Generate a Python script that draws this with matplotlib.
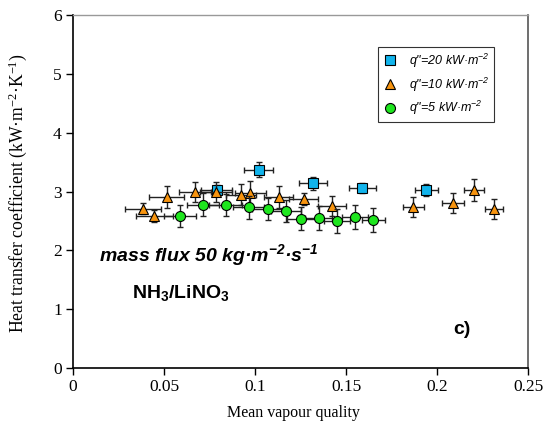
import matplotlib

matplotlib.use("Agg")
import matplotlib.pyplot as plt
from matplotlib.ticker import FixedLocator, FuncFormatter

plt.rcParams["mathtext.default"] = "regular"

# q" = 20 kW/m2 (squares)
x20 = [0.079, 0.102, 0.1317, 0.159, 0.194]
y20 = [3.03, 3.37, 3.14, 3.06, 3.03]
xe20 = [0.0085, 0.0080, 0.0078, 0.0072, 0.0063]
ye20 = [0.08, 0.13, 0.11, 0.09, 0.10]

# q" = 10 kW/m2 (triangles)
x10 = [0.0386, 0.0447, 0.0515, 0.067, 0.0786, 0.0923, 0.0974, 0.113, 0.1267,
       0.1423, 0.187, 0.2086, 0.220, 0.2313]
y10 = [2.71, 2.58, 2.91, 3.00, 3.00, 2.95, 2.98, 2.91, 2.88, 2.76, 2.74, 2.80, 3.03, 2.70]
xe10 = [0.010, 0.010, 0.0095, 0.009, 0.009, 0.0085, 0.0085, 0.008, 0.008, 0.0075,
        0.006, 0.006, 0.0055, 0.005]
ye10 = [0.09, 0.10, 0.19, 0.17, 0.17, 0.18, 0.20, 0.19, 0.10, 0.17, 0.17, 0.17, 0.19, 0.17]

# q" = 5 kW/m2 (circles)
x5 = [0.0588, 0.0714, 0.0839, 0.0965, 0.107, 0.117, 0.1255, 0.135, 0.145, 0.155, 0.165]
y5 = [2.59, 2.78, 2.77, 2.73, 2.70, 2.67, 2.54, 2.55, 2.50, 2.57, 2.52]
xe5 = [0.009, 0.009, 0.009, 0.0085, 0.0085, 0.008, 0.008, 0.0075, 0.007, 0.007, 0.0065]
ye5 = [0.19, 0.19, 0.19, 0.19, 0.19, 0.19, 0.19, 0.21, 0.20, 0.20, 0.20]

xticks = [0, 0.05, 0.1, 0.15, 0.2, 0.25]
yticks = [0, 1, 2, 3, 4, 5, 6]

serif = "Liberation Serif"
sans = "Liberation Sans"

fig = plt.figure(figsize=(5.44, 4.40), dpi=100)
ax = fig.add_axes([0.134, 0.1636, 0.837, 0.802])

series = [
    (x20, y20, xe20, ye20, "s", "#12b4ec", 7.2, 'q"=20 kW·m$^{-2}$'),
    (x10, y10, xe10, ye10, "^", "#f7940f", 7.8, 'q"=10 kW·m$^{-2}$'),
    (x5, y5, xe5, ye5, "o", "#1ee61e", 7.2, 'q"=5 kW·m$^{-2}$'),
]
handles = []
for k, (xs, ys, xe, ye, mk, col, ms, lab) in enumerate(series):
    ax.errorbar(xs, ys, xerr=xe, yerr=ye, fmt="none", ecolor="#222222",
                elinewidth=1.0, capsize=2.5, capthick=1.0, zorder=2 + 2 * k)
    h, = ax.plot(xs, ys, ls="none", marker=mk, ms=ms, mfc=col, mec="black",
                 mew=0.8, zorder=3 + 2 * k, label=lab)
    handles.append(h)

ax.set_xlim(0, 0.25)
ax.set_ylim(0, 6)
ax.xaxis.set_major_locator(FixedLocator(xticks))
ax.yaxis.set_major_locator(FixedLocator(yticks))
ax.xaxis.set_major_formatter(FuncFormatter(lambda v, p: f"{v:g}"))
ax.tick_params(direction="out", length=5, width=1, labelsize=12.5, pad=3)
for t in ax.get_xticklabels() + ax.get_yticklabels():
    t.set_fontfamily(serif)

ax.spines["left"].set_linewidth(1.2)
ax.spines["bottom"].set_linewidth(1.2)
ax.spines["top"].set_color("#999999")
ax.spines["right"].set_color("#555555")
ax.spines["top"].set_linewidth(1.0)
ax.spines["right"].set_linewidth(1.2)

ax.set_xlabel("Mean vapour quality", fontfamily=serif, fontsize=11.5)
ax.xaxis.set_label_coords(0.4835, -0.105)
ax.set_ylabel("Heat transfer coefficient (kW·m$^{-2}$·K$^{-1}$)", fontfamily=serif, fontsize=12.7)
ax.yaxis.set_label_coords(-0.097, 0.497)

ax.text(0.0143, 1.92, "mass flux 50 kg·m$^{-2}$·s$^{-1}$", fontfamily=sans,
        fontsize=14, fontweight="bold", fontstyle="italic", va="center", ha="left")
ax.text(0.0327, 1.28, "NH$_3$/LiNO$_3$", fontfamily=sans, fontsize=14,
        fontweight="bold", va="center", ha="left")
ax.text(0.2088, 0.66, "c)", fontfamily=sans, fontsize=14, fontweight="bold",
        va="center", ha="left")

leg = ax.legend(handles=handles, loc="upper left", bbox_to_anchor=(0.67, 0.909),
                prop={"family": sans, "style": "italic", "size": 9},
                frameon=True, fancybox=False, borderpad=0.35, labelspacing=0.45,
                handlelength=1.2, handletextpad=0.9, borderaxespad=0)
leg.get_frame().set_edgecolor("black")
leg.get_frame().set_linewidth(0.8)

fig.savefig("out.png", dpi=100)
